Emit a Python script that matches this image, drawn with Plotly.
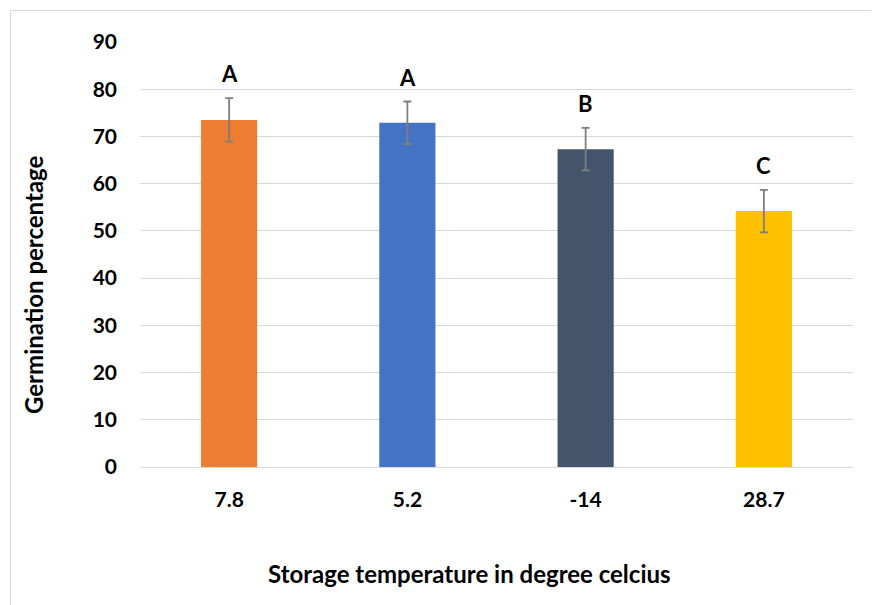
import plotly.graph_objects as go

categories = ["7.8", "5.2", "-14", "28.7"]
germination = [73.5, 72.9, 67.3, 54.2]
errors = [4.6, 4.5, 4.5, 4.5]
letters = ["A", "A", "B", "C"]
colors = ["#ED7D31", "#4472C4", "#44546A", "#FFC000"]

FONT = "Lato, Open Sans, sans-serif"

L, R, T, B = 132, 26, 34, 138
W, H = 871, 597
PW, PH = W - L - R, H - T - B

fig = go.Figure()
fig.add_trace(go.Bar(
    x=categories, y=germination,
    marker=dict(color=colors, line=dict(width=0)),
    width=0.315,
    error_y=dict(type="data", array=errors, visible=True, color="#7f7f7f", thickness=1.8, width=4),
    showlegend=False,
))

for i, (v, e, l) in enumerate(zip(germination, errors, letters)):
    fig.add_annotation(x=i, y=v + e, text=l, showarrow=False, yanchor="bottom", yshift=9,
                       font=dict(family=FONT, size=22, color="black", weight="bold"))

fig.add_annotation(xref="paper", yref="paper", x=(469 - 140) / PW, y=-(573 - 467) / PH,
                   text="Storage temperature in degree celcius", showarrow=False,
                   xanchor="center", yanchor="middle",
                   font=dict(family=FONT, size=24, color="black", weight="bold"))
fig.add_annotation(xref="paper", yref="paper", x=-(140 - 33) / PW, y=1 - (285 - 42) / PH,
                   text="Germination percentage", showarrow=False, textangle=-90,
                   xanchor="center", yanchor="middle",
                   font=dict(family=FONT, size=24, color="black", weight="bold"))

fig.add_shape(type="rect", xref="paper", yref="paper",
              x0=(10.5 - 140) / PW, y0=-2, x1=2, y1=1 + (42 - 10.5) / PH,
              line=dict(color="#d9d9d9", width=1), layer="below")

fig.update_layout(
    width=W, height=H,
    margin=dict(l=L, r=R, t=T, b=B),
    plot_bgcolor="white", paper_bgcolor="white",
    font=dict(family=FONT, color="black"),
)
fig.update_xaxes(type="category", range=[-0.5, 3.5], showgrid=False, showline=False, zeroline=False, ticks="",
                 tickfont=dict(family=FONT, size=21, color="black", weight="bold"),
                 ticklabelstandoff=18)
fig.update_yaxes(range=[0, 90], dtick=10, showgrid=True, gridcolor="#d9d9d9", gridwidth=1,
                 zeroline=True, zerolinecolor="#d9d9d9", zerolinewidth=1, showline=False, ticks="",
                 tickfont=dict(family=FONT, size=21, color="black", weight="bold"),
                 ticklabelstandoff=22)

fig.write_html("out.html")
